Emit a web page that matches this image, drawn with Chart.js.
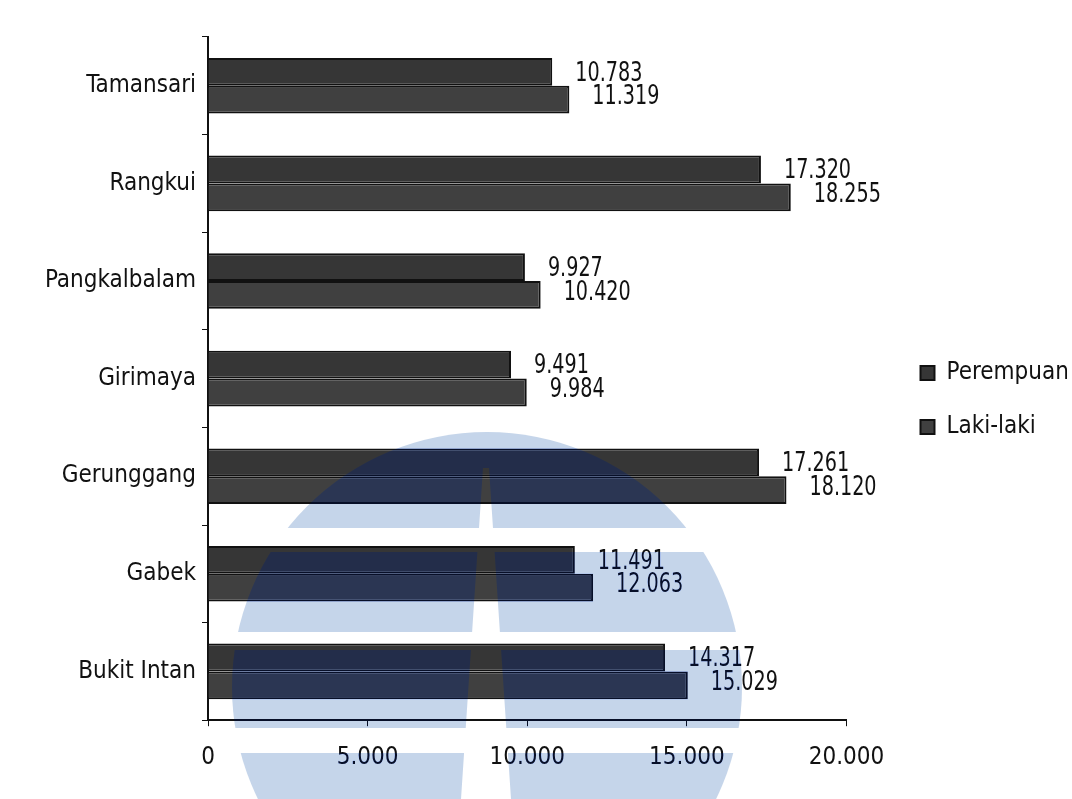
<!DOCTYPE html>
<html>
<head>
<meta charset="utf-8">
<script src="https://cdn.jsdelivr.net/npm/chart.js@4/dist/chart.umd.min.js"></script>
<style>
    body { margin: 0; background: #ffffff; }
    #wrap { width: 1072px; height: 799px; }
</style>
</head>
<body>
<div id="wrap"><canvas id="myChart" width="1072" height="799"></canvas></div>
<script>
const kelurahan = ['Tamansari', 'Rangkui', 'Pangkalbalam', 'Girimaya', 'Gerunggang', 'Gabek', 'Bukit Intan'];
const perempuan = [10783, 17320, 9927, 9491, 17261, 11491, 14317];
const lakiLaki = [11319, 18255, 10420, 9984, 18120, 12063, 15029];
const tickMin = 0;
const tickMax = 20000;
const tickStep = 5000;

const fonte = "'Liberation Sans Narrow', 'DejaVu Sans Condensed', sans-serif";

function formatTitik(v) {
    return String(v).replace(/\B(?=(\d{3})+(?!\d))/g, '.');
}

// latar putih (supaya blend watermark benar) + geser legenda sedikit ke atas
const latarPutih = {
    id: 'latarPutih',
    afterLayout(chart) {
        if (chart.legend) chart.legend.bottom -= 26;
    },
    beforeDraw(chart) {
        const ctx = chart.ctx;
        ctx.save();
        ctx.fillStyle = '#ffffff';
        ctx.fillRect(0, 0, chart.width, chart.height);
        ctx.restore();
    }
};

// angka di ujung batang
const labelBatang = {
    id: 'labelBatang',
    afterDatasetsDraw(chart) {
        const ctx = chart.ctx;
        ctx.save();
        ctx.font = '26px ' + fonte;
        ctx.fillStyle = '#111';
        ctx.textAlign = 'left';
        ctx.textBaseline = 'middle';
        chart.data.datasets.forEach(function (ds, i) {
            const meta = chart.getDatasetMeta(i);
            meta.data.forEach(function (bar, j) {
                ctx.save();
                ctx.translate(bar.x + 23, bar.y + (i == 0 ? 2 : -2));
                ctx.scale(0.82, 1);
                ctx.fillText(formatTitik(ds.data[j]), 0, 0);
                ctx.restore();
            });
        });
        ctx.restore();
    }
};

// watermark biru dari hasil scan
const watermark = {
    id: 'watermark',
    afterDraw(chart) {
        const ctx = chart.ctx;
        const w = chart.width, h = chart.height;
        const cx = 487, cy = 687, r = 255;
        const pita = [[432, 528], [552, 632], [650, 728], [753, h]];

        ctx.save();
        ctx.beginPath();
        ctx.arc(cx, cy, r, 0, Math.PI * 2);
        ctx.clip();
        // celah miring di tengah
        ctx.beginPath();
        ctx.rect(0, 0, w, h);
        ctx.moveTo(483, 468);
        ctx.lineTo(489, 468);
        ctx.lineTo(511, h);
        ctx.lineTo(461, h);
        ctx.closePath();
        ctx.clip('evenodd');

        ctx.beginPath();
        pita.forEach(function (p) {
            ctx.rect(cx - r, p[0], 2 * r, p[1] - p[0]);
        });
        ctx.globalCompositeOperation = 'color';
        ctx.fillStyle = '#27304a';
        ctx.fill();
        ctx.globalCompositeOperation = 'multiply';
        ctx.fillStyle = '#c5d5ea';
        ctx.fill();
        ctx.restore();
    }
};

const data = {
    labels: kelurahan,
    datasets: [{
        label: 'Perempuan',
        data: perempuan,
        backgroundColor: '#363636',
        borderColor: '#111111',
        borderWidth: 2
    },
    {
        label: 'Laki-laki',
        data: lakiLaki,
        backgroundColor: '#404040',
        borderColor: '#111111',
        borderWidth: 2
    }]
};

const config = {
    type: 'bar',
    data: data,
    options: {
        indexAxis: 'y',
        responsive: false,
        animation: false,
        categoryPercentage: 0.57,
        barPercentage: 1,
        layout: { padding: { top: 37, bottom: 10, left: 8, right: 5 } },
        plugins: {
            tooltip: { enabled: false },
            legend: {
                position: 'right',
                labels: {
                    font: { family: fonte, size: 24 },
                    color: '#111',
                    boxWidth: 14,
                    boxHeight: 14,
                    padding: 30
                }
            }
        },
        scales: {
            x: {
                min: tickMin,
                max: tickMax,
                ticks: {
                    stepSize: tickStep,
                    font: { family: fonte, size: 24 },
                    color: '#111',
                    padding: 17,
                    callback: function (v) { return formatTitik(v); }
                },
                grid: { drawOnChartArea: false, color: '#111', tickLength: 6 },
                border: { color: '#111', width: 2 }
            },
            y: {
                ticks: {
                    font: { family: fonte, size: 24 },
                    color: '#111',
                    padding: 6
                },
                grid: { drawOnChartArea: false, color: '#111', tickLength: 6, offset: true },
                border: { color: '#111', width: 2 },
                afterFit: function (scale) { scale.width = 200; }
            },
            // ruang kosong antara plot dan legenda
            jarak: {
                type: 'category',
                position: 'right',
                display: true,
                ticks: { display: false },
                grid: { display: false },
                border: { display: false },
                afterFit: function (scale) { scale.width = 44; }
            }
        }
    },
    plugins: [latarPutih, labelBatang, watermark]
};

const myChart = new Chart(document.getElementById('myChart'), config);
</script>
</body>
</html>
